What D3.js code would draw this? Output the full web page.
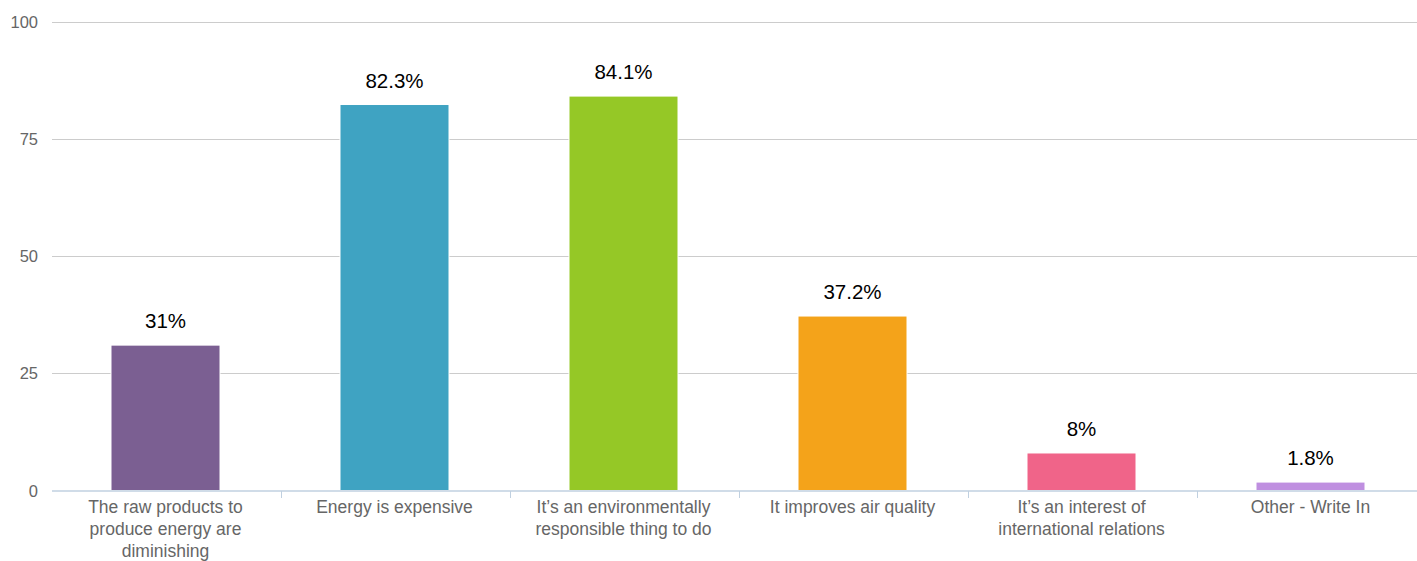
<!DOCTYPE html>
<html><head><meta charset="utf-8">
<script src="https://cdn.jsdelivr.net/npm/d3@7"></script>
<style>body{margin:0;background:#fff;}svg{display:block;font-family:"Liberation Sans",Arial,Helvetica,sans-serif;}</style>
</head><body>
<svg id="c" width="1417" height="561"></svg>
<script>
const categories = [
  "The raw products to\nproduce energy are\ndiminishing",
  "Energy is expensive",
  "It\u2019s an environmentally\nresponsible thing to do",
  "It improves air quality",
  "It\u2019s an interest of\ninternational relations",
  "Other - Write In"
];
const values = [31, 82.3, 84.1, 37.2, 8, 1.8];
const valueLabels = ["31%", "82.3%", "84.1%", "37.2%", "8%", "1.8%"];
const colors = ["#7b5f92", "#3fa3c2", "#95c826", "#f4a31a", "#f06489", "#bf8fe0"];
const yTicks = [0, 25, 50, 75, 100];

const svg = d3.select("#c");
const plotLeft = 52, plotRight = 1426, plotTop = 21.5, plotBottom = 490.5;
const x = d3.scaleBand().domain(categories).range([plotLeft, plotRight]).paddingInner(0).paddingOuter(0);
const y = d3.scaleLinear().domain([0, 100]).range([plotBottom, plotTop]);

// gridlines
svg.append("g").selectAll("line").data(yTicks.filter(d => d > 0)).join("line")
  .attr("x1", plotLeft).attr("x2", 1417)
  .attr("y1", d => Math.round(y(d)) + 0.5).attr("y2", d => Math.round(y(d)) + 0.5)
  .attr("stroke", "#cccccc").attr("stroke-width", 1);

// y labels
svg.append("g").selectAll("text").data(yTicks).join("text")
  .attr("x", 38).attr("y", d => y(d) + 6)
  .attr("text-anchor", "end").attr("fill", "#666").attr("font-size", 16.5)
  .text(d => d);

// bars
const bw = 109;
svg.append("g").selectAll("rect").data(values).join("rect")
  .attr("x", (d, i) => x(categories[i]) + x.bandwidth() / 2 - bw / 2 - 1)
  .attr("y", d => y(d))
  .attr("width", bw).attr("height", d => plotBottom - y(d))
  .attr("fill", (d, i) => colors[i])
  .attr("stroke", "#fff").attr("stroke-width", 1);

// x axis line
svg.append("line").attr("x1", plotLeft).attr("x2", 1417).attr("y1", 491).attr("y2", 491)
  .attr("stroke", "#c0d0e0").attr("stroke-width", 1.5);
// ticks at band boundaries
svg.append("g").selectAll("line").data(categories.slice(1)).join("line")
  .attr("x1", d => Math.round(x(d)) + 0.5).attr("x2", d => Math.round(x(d)) + 0.5)
  .attr("y1", 491).attr("y2", 498)
  .attr("stroke", "#c0d0e0").attr("stroke-width", 1);

// category labels
const lab = svg.append("g").selectAll("text").data(categories).join("text")
  .attr("x", d => x(d) + x.bandwidth() / 2 - 1)
  .attr("y", 513)
  .attr("text-anchor", "middle").attr("fill", "#666").attr("font-size", 17.5);
lab.each(function(d) {
  const t = d3.select(this);
  d.split("\n").forEach((line, k) => {
    t.append("tspan").attr("x", t.attr("x")).attr("dy", k === 0 ? 0 : 22).text(line);
  });
});

// value labels
svg.append("g").selectAll("text").data(values).join("text")
  .attr("x", (d, i) => x(categories[i]) + x.bandwidth() / 2 - 1)
  .attr("y", d => y(d) - 17)
  .attr("text-anchor", "middle").attr("fill", "#000").attr("font-size", 20.5)
  .text((d, i) => valueLabels[i]);
</script>
</body></html>
